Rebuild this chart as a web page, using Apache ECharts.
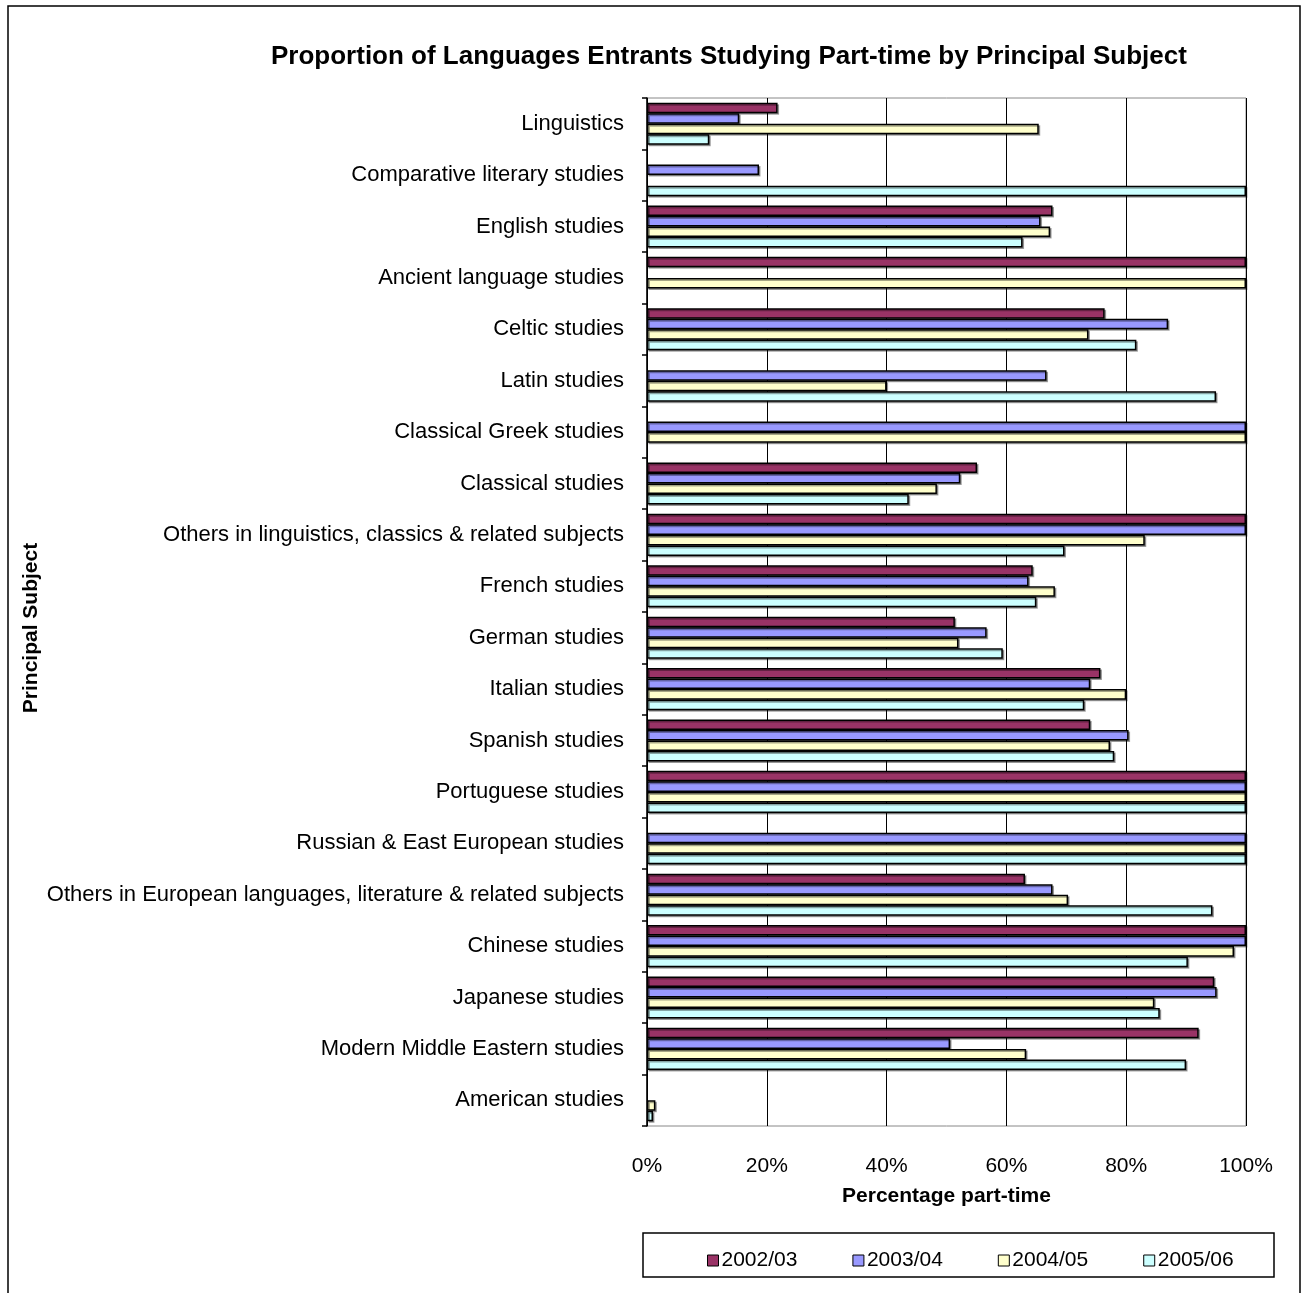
<!DOCTYPE html>
<html>
<head>
<meta charset="utf-8">
<script src="https://cdn.jsdelivr.net/npm/echarts@6/dist/echarts.min.js"></script>
<style>html,body{margin:0;padding:0;background:#fff}#c{width:1306px;height:1293px}</style>
</head>
<body>
<div id="c"></div>
<script>
const categories = ['Linguistics','Comparative literary studies','English studies','Ancient language studies','Celtic studies','Latin studies','Classical Greek studies','Classical studies','Others in linguistics, classics & related subjects','French studies','German studies','Italian studies','Spanish studies','Portuguese studies','Russian & East European studies','Others in European languages, literature & related subjects','Chinese studies','Japanese studies','Modern Middle Eastern studies','American studies'];
const seriesNames = ['2002/03','2003/04','2004/05','2005/06'];
const s2002 = [21.8, null, 67.7, 100, 76.4, null, null, 55.1, 100, 64.4, 51.4, 75.7, 74.0, 100, null, 63.1, 100, 94.7, 92.1, null];
const s2003 = [15.4, 18.7, 65.7, null, 87.0, 66.7, 100, 52.3, 100, 63.7, 56.7, 74.0, 80.4, 100, 100, 67.7, 100, 95.1, 50.6, null];
const s2004 = [65.4, null, 67.3, 100, 73.7, 40.0, 100, 48.4, 83.1, 68.1, 52.0, 80.0, 77.3, 100, 100, 70.3, 98.0, 84.7, 63.3, 1.4];
const s2005 = [10.4, 100, 62.7, null, 81.7, 95.0, null, 43.7, 69.7, 65.0, 59.4, 73.0, 78.0, 100, 100, 94.4, 90.3, 85.6, 90.0, 1.0];
const xTicks = [0, 20, 40, 60, 80, 100];

const colors = ['#993366', '#9999FF', '#FFFFCC', '#CCFFFF'];
const allData = [s2002, s2003, s2004, s2005];
const FONT = '"Liberation Sans", Arial, sans-serif';

const chart = echarts.init(document.getElementById('c'));
chart.setOption({
  animation: false,
  backgroundColor: '#fff',
  title: {
    text: 'Proportion of Languages Entrants Studying Part-time by Principal Subject',
    left: 266, top: 39,
    textStyle: { fontFamily: FONT, fontSize: 26, fontWeight: 'bold', color: '#000' }
  },
  graphic: [
    { type: 'rect', shape: { x: 8, y: 6, width: 1292, height: 1300 }, style: { fill: 'none', stroke: '#000', lineWidth: 1.5 }, z: 0 },
    { type: 'rect', shape: { x: 643, y: 1233, width: 631, height: 44 }, style: { fill: 'none', stroke: '#000', lineWidth: 1.5 }, z: 0 },
    { type: 'text', x: 31, y: 628, rotation: Math.PI / 2,
      style: { text: 'Principal Subject', fontFamily: FONT, fontSize: 21, fontWeight: 'bold', fill: '#000', align: 'center', verticalAlign: 'middle' } }
  ],
  legend: {
    data: seriesNames,
    left: 702, top: 1245,
    icon: 'rect', itemWidth: 11, itemHeight: 11, itemGap: 55,
    itemStyle: { borderColor: '#000', borderWidth: 1 },
    textStyle: { fontFamily: FONT, fontSize: 21, color: '#000', padding: [0,0,0,-2] }
  },
  grid: { left: 647, right: 60, top: 98, bottom: 167, show: true, borderColor: '#888', borderWidth: 1 },
  xAxis: {
    type: 'value', min: xTicks[0], max: xTicks[xTicks.length-1], interval: 20,
    axisLabel: { formatter: '{value}%', fontFamily: FONT, fontSize: 21, color: '#000', margin: 30 },
    axisLine: { show: false },
    axisTick: { show: false },
    splitLine: { lineStyle: { color: '#000', width: 1 } },
    name: 'Percentage part-time', nameLocation: 'middle', nameGap: 60,
    nameTextStyle: { fontFamily: FONT, fontSize: 21, fontWeight: 'bold', color: '#000' }
  },
  yAxis: {
    type: 'category', inverse: true, data: categories,
    axisLine: { show: true, lineStyle: { color: '#000', width: 1.5 } },
    axisTick: { show: true, length: 5, inside: false, lineStyle: { color: '#000', width: 1.5 } },
    axisLabel: { fontFamily: FONT, fontSize: 22, color: '#000', margin: 23 }
  },
  series: seriesNames.map((n, i) => ({
    name: n, type: 'bar', data: allData[i],
    barGap: '0%', barCategoryGap: '18%',
    itemStyle: { color: colors[i], borderColor: '#000', borderWidth: 1.5,
      shadowColor: 'rgba(0,0,0,0.35)', shadowOffsetX: 1.5, shadowOffsetY: 1.5, shadowBlur: 0 }
  }))
});
</script>
</body>
</html>
